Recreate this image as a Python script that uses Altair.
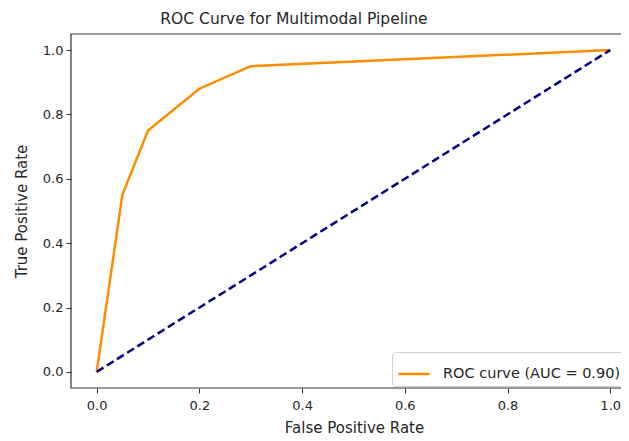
import altair as alt
import pandas as pd

fpr = [0.0, 0.05, 0.1, 0.2, 0.3, 1.0]
tpr = [0.0, 0.55, 0.75, 0.88, 0.95, 1.0]
diag_x = [0.0, 1.0]
diag_y = [0.0, 1.0]
ticks = [0.0, 0.2, 0.4, 0.6, 0.8, 1.0]
label = "ROC curve (AUC = 0.90)"

roc = pd.DataFrame({"fpr": fpr, "tpr": tpr, "series": [label] * len(fpr), "order": list(range(len(fpr)))})
diag = pd.DataFrame({"fpr": diag_x, "tpr": diag_y})

FONT = "DejaVu Sans"
TXT = "#262626"
W, H = 550, 354
xs = alt.Scale(domain=[-0.05, 1.021], nice=False, zero=False)
ys = alt.Scale(domain=[-0.05, 1.05], nice=False, zero=False)

xax = alt.Axis(values=ticks, format=".1f", grid=False, title="False Positive Rate",
               domain=False, tickColor="#333", labelColor=TXT, titleColor=TXT,
               labelFont=FONT, titleFont=FONT, labelFontSize=13, titleFontSize=15,
               titleFontWeight="normal", tickSize=5, labelPadding=6, titlePadding=8,
               titleX=283)
yax = alt.Axis(values=ticks, format=".1f", grid=False, title="True Positive Rate",
               domain=False, tickColor="#333", labelColor=TXT, titleColor=TXT,
               labelFont=FONT, titleFont=FONT, labelFontSize=13, titleFontSize=15,
               titleFontWeight="normal", tickSize=5, labelPadding=3, titlePadding=13)

frame = alt.Chart(pd.DataFrame({"a": [0]})).mark_rect(fill=None, stroke="#333", strokeWidth=1.2).encode(
    x=alt.value(0), x2=alt.value(W + 10), y=alt.value(0), y2=alt.value(H)
)

diag_layer = alt.Chart(diag).mark_line(color="navy", strokeWidth=2.5, strokeDash=[8, 4]).encode(
    x=alt.X("fpr:Q", scale=xs, axis=xax),
    y=alt.Y("tpr:Q", scale=ys, axis=yax),
)

roc_layer = alt.Chart(roc).mark_line(strokeWidth=2.5).encode(
    x=alt.X("fpr:Q", scale=xs, axis=xax),
    y=alt.Y("tpr:Q", scale=ys, axis=yax),
    order="order:Q",
    color=alt.Color("series:N", scale=alt.Scale(domain=[label], range=["darkorange"]),
                    legend=alt.Legend(title=None, orient="none", legendX=321, legendY=318,
                                      symbolType="stroke", symbolSize=961, symbolStrokeWidth=2.5,
                                      labelFont=FONT, labelFontSize=14.5, labelColor=TXT,
                                      labelOffset=12, labelLimit=400,
                                      padding=5, strokeColor="#d0d0d0", fillColor="white",
                                      cornerRadius=3)),
)

chart = (frame + roc_layer + diag_layer).properties(
    width=W, height=H,
    title=alt.TitleParams("ROC Curve for Multimodal Pipeline", font=FONT, fontSize=15.5,
                          fontWeight="normal", color=TXT, offset=6, anchor="middle",
                          frame="group", dx=-52),
    autosize=alt.AutoSizeParams(type="none"),
    padding={"left": 63, "top": 26, "right": 0, "bottom": 50},
).configure_view(strokeWidth=0)

chart.save("out.html", embed_options={"renderer": "svg", "actions": False})
